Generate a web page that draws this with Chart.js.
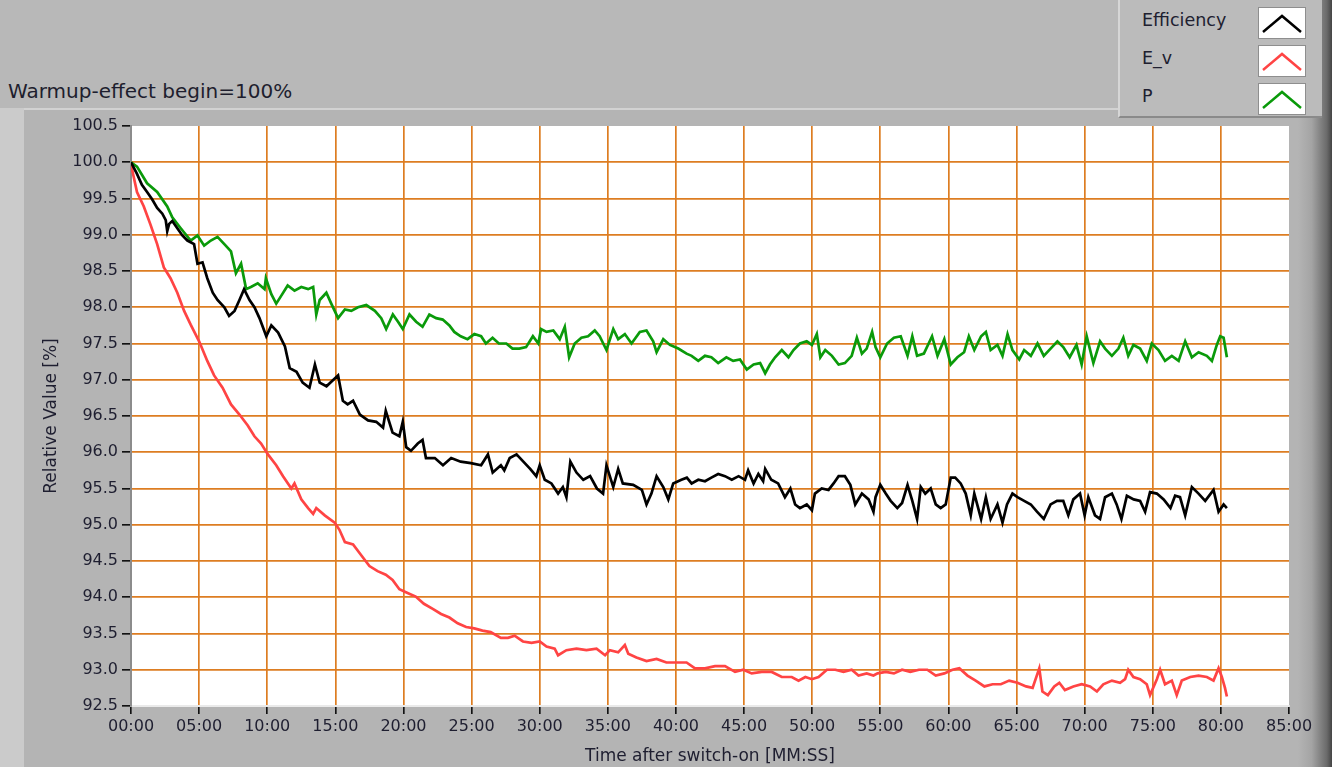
<!DOCTYPE html>
<html><head><meta charset="utf-8">
<script src="https://cdn.jsdelivr.net/npm/chart.js@4"></script>
<style>
html,body{margin:0;padding:0;}
body{width:1332px;height:767px;position:relative;overflow:hidden;background:#b8b8b8;font-family:"DejaVu Sans",sans-serif;}
#leftstrip{position:absolute;left:0;top:108px;width:24px;height:659px;background:#cbcbcb;}
#panel{position:absolute;left:24px;top:108px;width:1274px;height:659px;background:#b4b4b4;border-top:2px solid #d2d2d2;}
#rightedge{position:absolute;left:1298px;top:0;width:34px;height:767px;background:linear-gradient(to right,#b4b4b4,#a4a4a4 40%,#6a6a6a 85%,#444);}
#title{position:absolute;left:8px;top:79px;font-size:20px;color:#1e1e2e;white-space:nowrap;}
#legend{position:absolute;left:1118px;top:0;width:202px;height:116px;background:#bbbbbb;border-left:2px solid #d6d6d6;border-bottom:2px solid #8a8a8a;}
.item{position:absolute;left:22px;font-size:17.5px;color:#202030;}
.sw{position:absolute;left:138px;width:46px;height:30px;background:#fff;border:1px solid #8e8e8e;}
.sw svg{position:absolute;left:0;top:0;}
#wrap{position:absolute;left:0;top:0;width:1332px;height:767px;}
</style>
</head>
<body>
<div id="leftstrip"></div>
<div id="panel"></div>
<div id="rightedge"></div>
<div id="title">Warmup-effect begin=100%</div>
<div id="legend">
  <div class="item" style="top:10px">Efficiency</div>
  <div class="sw" style="top:7px"><svg width="46" height="30"><polyline points="4,24 23,8 42,24" fill="none" stroke="#000" stroke-width="2.5"/></svg></div>
  <div class="item" style="top:48px">E_v</div>
  <div class="sw" style="top:45px"><svg width="46" height="30"><polyline points="4,24 23,8 42,24" fill="none" stroke="#ff4444" stroke-width="2.5"/></svg></div>
  <div class="item" style="top:86px">P</div>
  <div class="sw" style="top:83px"><svg width="46" height="30"><polyline points="4,24 23,8 42,24" fill="none" stroke="#0a9a0a" stroke-width="2.5"/></svg></div>
</div>
<div id="wrap"><canvas id="c" width="1332" height="767"></canvas></div>
<script>
const seriesNames = ["Efficiency", "E_v", "P"];
const xTickLabelsMinutes = [0,5,10,15,20,25,30,35,40,45,50,55,60,65,70,75,80,85];

const effTime = [0,0.44,0.8,1.18,1.55,1.92,2.3,2.55,2.66,2.8,3.03,3.4,3.77,4.14,4.63,4.88,5.25,5.6,6.0,6.35,6.85,7.2,7.6,7.96,8.3,8.7,9.06,9.43,9.93,10.3,10.8,11.3,11.65,12.15,12.6,13.1,13.5,13.85,14.35,14.8,15.2,15.55,15.9,16.3,16.8,17.4,18.0,18.5,18.7,19.2,19.7,19.95,20.2,20.55,21.05,21.4,21.65,22.3,22.9,23.5,24.2,24.95,25.7,26.2,26.55,27.15,27.4,27.8,28.3,28.8,29.3,29.75,30.0,30.37,30.86,31.35,31.7,31.96,32.25,32.7,33.2,33.7,34.2,34.65,34.9,35.4,35.76,36.1,36.86,37.5,37.84,38.2,38.58,39.07,39.44,39.8,40.4,40.8,41.15,41.64,42.13,42.6,43.1,43.6,44.1,44.6,45.07,45.3,45.7,46.05,46.4,46.55,47.0,47.5,48.0,48.4,48.75,49.1,49.6,49.98,50.2,50.7,51.2,51.57,51.94,52.4,52.8,53.16,53.65,54.14,54.5,54.65,55.0,55.4,55.76,56.25,56.6,57.0,57.35,57.7,57.97,58.3,58.7,59.07,59.43,59.8,60.17,60.5,60.9,61.27,61.64,61.9,62.4,62.75,63.1,63.6,63.97,64.3,64.7,65.07,65.56,66.05,66.5,67.0,67.5,67.97,68.43,68.8,69.17,69.66,70.0,70.27,70.76,71.13,71.5,72.0,72.35,72.7,73.1,73.6,74.07,74.44,74.8,75.3,75.8,76.3,76.64,77.0,77.38,77.87,78.36,78.85,79.46,79.83,80.2,80.44];
const effValues = [100.0,99.84,99.69,99.59,99.49,99.37,99.29,99.2,99.05,99.15,99.19,99.09,98.99,98.92,98.87,98.6,98.62,98.4,98.2,98.1,98.0,97.88,97.95,98.1,98.25,98.1,98.0,97.85,97.6,97.75,97.65,97.46,97.16,97.11,96.96,96.89,97.21,96.96,96.91,96.99,97.06,96.71,96.66,96.71,96.52,96.44,96.42,96.34,96.57,96.27,96.22,96.42,96.07,96.02,96.12,96.17,95.92,95.92,95.82,95.92,95.87,95.85,95.82,95.97,95.72,95.82,95.75,95.92,95.97,95.87,95.77,95.67,95.82,95.62,95.57,95.43,95.52,95.38,95.87,95.72,95.62,95.67,95.5,95.43,95.82,95.52,95.77,95.57,95.55,95.48,95.28,95.43,95.67,95.52,95.35,95.57,95.62,95.65,95.57,95.62,95.6,95.65,95.7,95.67,95.62,95.67,95.62,95.75,95.57,95.7,95.6,95.77,95.62,95.57,95.38,95.5,95.28,95.23,95.28,95.2,95.43,95.5,95.48,95.57,95.67,95.67,95.55,95.28,95.43,95.35,95.18,95.38,95.55,95.43,95.33,95.23,95.3,95.55,95.33,95.08,95.52,95.43,95.5,95.28,95.23,95.28,95.65,95.65,95.57,95.43,95.13,95.43,95.08,95.38,95.08,95.28,95.03,95.28,95.43,95.38,95.33,95.28,95.18,95.08,95.28,95.33,95.33,95.13,95.35,95.43,95.13,95.38,95.13,95.08,95.38,95.43,95.28,95.08,95.4,95.35,95.33,95.18,95.45,95.43,95.35,95.23,95.4,95.38,95.13,95.52,95.43,95.33,95.48,95.18,95.28,95.23];

const evTime = [0,0.44,0.94,1.43,1.92,2.41,2.9,3.4,3.9,4.38,5.0,5.6,6.1,6.72,7.34,7.96,8.57,9.06,9.55,10.05,10.66,11.16,11.77,12.0,12.5,13.0,13.37,13.6,14.22,14.95,15.3,15.7,16.3,16.9,17.5,18.1,18.7,19.2,19.7,20.3,20.9,21.5,22.15,22.76,23.37,23.98,24.6,25.2,25.8,26.4,27.15,27.67,28.16,28.77,29.4,30.0,30.5,31.1,31.35,31.96,32.7,33.43,34.17,34.8,35.15,35.76,36.25,36.5,37.1,37.84,38.58,39.3,40.05,40.78,41.4,42.13,42.87,43.6,44.34,44.95,45.56,46.3,47.03,47.77,48.5,49.0,49.5,49.98,50.47,51.08,51.7,52.3,52.9,53.4,54.0,54.5,54.8,55.4,56.0,56.6,57.2,57.84,58.45,59.07,59.7,60.3,60.8,61.4,62.0,62.64,63.24,63.85,64.46,65.07,65.7,66.18,66.67,66.9,67.3,67.77,68.14,68.55,69.17,69.78,70.4,70.9,71.37,72.0,72.6,72.97,73.2,73.58,74.07,74.56,74.8,75.3,75.54,75.9,76.4,76.76,77.13,77.75,78.36,78.97,79.46,79.83,80.07,80.3,80.44];
const evValues = [99.97,99.59,99.39,99.14,98.87,98.55,98.4,98.2,97.95,97.76,97.53,97.26,97.06,96.89,96.66,96.52,96.37,96.22,96.12,95.97,95.82,95.67,95.5,95.57,95.35,95.23,95.15,95.23,95.13,95.03,94.93,94.76,94.73,94.58,94.43,94.36,94.31,94.24,94.11,94.06,94.01,93.91,93.84,93.77,93.72,93.64,93.59,93.57,93.54,93.52,93.44,93.44,93.47,93.39,93.37,93.39,93.32,93.29,93.2,93.27,93.29,93.27,93.29,93.2,93.27,93.24,93.34,93.22,93.17,93.12,93.15,93.1,93.1,93.1,93.02,93.02,93.05,93.05,92.97,93.0,92.95,92.97,92.97,92.9,92.9,92.85,92.9,92.87,92.9,93.0,93.0,92.97,93.0,92.92,92.95,92.92,92.95,92.97,92.95,93.0,92.97,93.0,93.0,92.92,92.95,93.0,93.02,92.92,92.85,92.77,92.8,92.8,92.85,92.82,92.77,92.75,93.02,92.7,92.65,92.77,92.82,92.72,92.77,92.8,92.77,92.7,92.8,92.85,92.82,92.87,93.0,92.9,92.87,92.8,92.65,92.87,93.0,92.8,92.85,92.65,92.85,92.9,92.92,92.9,92.85,93.02,92.9,92.75,92.63];

const pTime = [0,0.44,1.18,1.92,2.66,3.03,3.65,4.38,4.88,5.37,5.86,6.35,6.85,7.34,7.7,8.08,8.45,8.8,9.3,9.8,9.9,10.3,10.66,11.0,11.5,12.0,12.5,13.0,13.37,13.6,13.85,14.34,14.7,15.2,15.7,16.17,16.66,17.27,17.9,18.37,18.73,19.22,19.6,19.95,20.44,20.93,21.4,21.9,22.4,22.88,23.37,23.73,24.2,24.7,25.2,25.7,26.05,26.54,27.0,27.55,28.0,28.5,29.0,29.5,29.9,30.1,30.5,31.0,31.47,31.84,32.16,32.57,33.06,33.55,34.04,34.4,34.9,35.4,35.76,36.25,36.74,37.35,37.84,38.33,38.58,39.07,39.56,40.17,40.78,41.15,41.64,42.13,42.6,43.1,43.7,44.2,44.7,45.2,45.7,46.18,46.55,46.9,47.28,47.77,48.26,48.63,49.1,49.6,49.98,50.34,50.6,50.96,51.45,51.94,52.4,52.9,53.28,53.65,54.0,54.4,54.65,55.0,55.5,56.0,56.5,57.0,57.35,57.7,58.2,58.8,59.2,59.7,60.17,60.66,61.15,61.5,61.9,62.4,62.75,63.1,63.6,63.97,64.34,64.7,65.2,65.56,66.05,66.54,67.0,67.5,68.0,68.43,68.9,69.4,69.78,70.15,70.64,71.13,71.5,72.0,72.48,72.84,73.2,73.58,74.07,74.56,74.93,75.42,75.9,76.4,76.9,77.38,77.87,78.36,78.97,79.34,79.7,79.95,80.2,80.44];
const pValues = [100.0,99.94,99.71,99.59,99.39,99.24,99.09,98.92,98.99,98.85,98.92,98.97,98.87,98.77,98.47,98.6,98.25,98.28,98.33,98.25,98.4,98.18,98.05,98.15,98.3,98.23,98.28,98.25,98.28,97.9,98.1,98.2,98.05,97.85,97.97,97.95,98.0,98.03,97.95,97.85,97.7,97.9,97.8,97.7,97.9,97.8,97.73,97.9,97.85,97.83,97.75,97.66,97.6,97.56,97.63,97.6,97.5,97.58,97.5,97.5,97.43,97.43,97.45,97.6,97.5,97.7,97.66,97.68,97.56,97.73,97.31,97.5,97.58,97.6,97.68,97.6,97.41,97.7,97.56,97.63,97.5,97.66,97.68,97.53,97.38,97.56,97.48,97.43,97.36,97.33,97.26,97.33,97.31,97.23,97.31,97.26,97.28,97.14,97.21,97.23,97.09,97.21,97.31,97.41,97.31,97.41,97.5,97.53,97.48,97.63,97.31,97.41,97.33,97.21,97.23,97.33,97.58,97.36,97.43,97.66,97.45,97.31,97.5,97.58,97.6,97.33,97.6,97.33,97.36,97.6,97.33,97.56,97.21,97.31,97.38,97.6,97.41,97.6,97.66,97.41,97.48,97.33,97.63,97.41,97.28,97.41,97.33,97.5,97.33,97.43,97.53,97.45,97.31,97.48,97.21,97.6,97.23,97.53,97.43,97.33,97.43,97.58,97.33,97.48,97.43,97.26,97.5,97.41,97.26,97.33,97.26,97.53,97.31,97.38,97.33,97.26,97.48,97.6,97.58,97.31];

const toPts = (t, v) => t.map((x, i) => ({x: x, y: v[i]}));
const pad2 = n => (n < 10 ? '0' : '') + n;
const labelColor = '#1e1e30';
const gridOrange = '#dd7d22';

const plotBg = {
  id: 'plotBg',
  beforeDraw(chart) {
    const a = chart.chartArea, c = chart.ctx;
    c.save();
    c.fillStyle = '#ffffff';
    c.fillRect(a.left, a.top, a.right - a.left, a.bottom - a.top);
    c.restore();
  }
};

const gridColor = (min, max) => (ctx) => {
  const v = ctx.tick ? ctx.tick.value : null;
  if (v === null || Math.abs(v - min) < 1e-9 || Math.abs(v - max) < 1e-9) return 'rgba(0,0,0,0)';
  return gridOrange;
};

new Chart(document.getElementById('c'), {
  type: 'line',
  data: {
    datasets: [
      {label: seriesNames[0], data: toPts(effTime, effValues), borderColor: '#000000', borderWidth: 2.7, pointRadius: 0, tension: 0},
      {label: seriesNames[1], data: toPts(evTime, evValues), borderColor: '#ff4444', borderWidth: 2.7, pointRadius: 0, tension: 0},
      {label: seriesNames[2], data: toPts(pTime, pValues), borderColor: '#0a9a0a', borderWidth: 2.7, pointRadius: 0, tension: 0}
    ]
  },
  options: {
    responsive: false,
    animation: false,
    events: [],
    layout: {padding: {left: 30, top: 126, right: 43, bottom: 0}},
    plugins: {legend: {display: false}, tooltip: {enabled: false}},
    scales: {
      x: {
        type: 'linear', min: 0, max: 85,
        afterBuildTicks(s) { s.ticks = xTickLabelsMinutes.map(v => ({value: v})); },
        ticks: {callback: v => pad2(v) + ':00', color: labelColor, font: {family: 'DejaVu Sans', size: 16}, padding: 3, maxRotation: 0, autoSkip: false},
        grid: {color: gridColor(0, 85), lineWidth: 1.7, tickColor: '#000', tickLength: 8, tickWidth: 1.5},
        border: {display: true, color: '#eaeaea', width: 2},
        title: {display: true, text: 'Time after switch-on [MM:SS]', color: labelColor, font: {family: 'DejaVu Sans', size: 17}, padding: {top: 0, bottom: 0}},
        afterFit(s) { s.height = 61; }
      },
      y: {
        min: 92.5, max: 100.5,
        ticks: {stepSize: 0.5, callback: v => Number(v).toFixed(1), color: labelColor, font: {family: 'DejaVu Sans', size: 16}, padding: 4},
        grid: {color: gridColor(92.5, 100.5), lineWidth: 1.7, tickColor: '#000', tickLength: 9, tickWidth: 1.5},
        border: {display: true, color: '#8c8c8c', width: 2},
        title: {display: true, text: 'Relative Value [%]', color: labelColor, font: {family: 'DejaVu Sans', size: 17}, padding: {top: 11, bottom: 0}},
        afterFit(s) { s.width = 101; }
      }
    }
  },
  plugins: [plotBg]
});
</script>
</body></html>
